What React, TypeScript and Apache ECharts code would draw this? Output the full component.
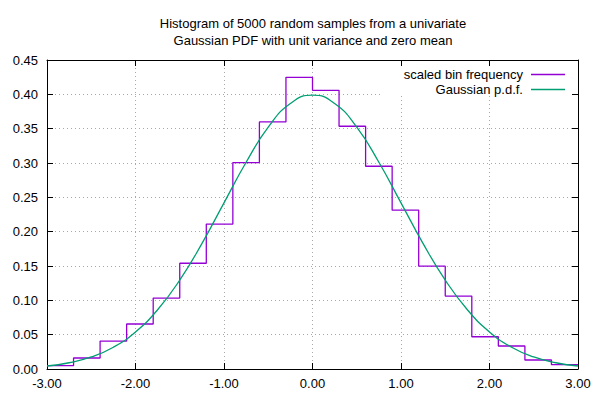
import React, { useEffect, useRef } from "react";
import * as echarts from "echarts";

const titleLines = [
  "Histogram of 5000 random samples from a univariate",
  "Gaussian PDF with unit variance and zero mean",
];
const histName = "scaled bin frequency";
const pdfName = "Gaussian p.d.f.";

// left edges of the 0.3-wide bins, last value is the right edge of the last bin
const binEdges = [
  -3.0, -2.7, -2.4, -2.1, -1.8, -1.5, -1.2, -0.9, -0.6, -0.3,
  0.0, 0.3, 0.6, 0.9, 1.2, 1.5, 1.8, 2.1, 2.4, 2.7, 3.0,
];
const binValues = [
  0.0049, 0.016, 0.0407, 0.0655, 0.1033, 0.154, 0.211, 0.3006, 0.3598, 0.4247,
  0.4058, 0.3535, 0.2953, 0.2313, 0.1498, 0.1062, 0.047, 0.0335, 0.0131, 0.0063,
];

const pdfX = [
  -3.0, -2.75, -2.5, -2.25, -2.0, -1.75, -1.5, -1.25, -1.0, -0.75, -0.5, -0.25,
  0.0, 0.25, 0.5, 0.75, 1.0, 1.25, 1.5, 1.75, 2.0, 2.25, 2.5, 2.75, 3.0,
];
const pdfY = [
  0.0044, 0.0091, 0.0175, 0.0317, 0.054, 0.0863, 0.1295, 0.1826, 0.242, 0.3011, 0.3521, 0.3867,
  0.3989, 0.3867, 0.3521, 0.3011, 0.242, 0.1826, 0.1295, 0.0863, 0.054, 0.0317, 0.0175, 0.0091, 0.0044,
];

const FONT = "'Liberation Sans', Arial, sans-serif";
const FS = 13;

export default function App() {
  const ref = useRef<HTMLDivElement>(null);
  useEffect(() => {
    if (!ref.current) return;
    const chart = echarts.init(ref.current, undefined, { renderer: "svg" });

    const histData = binValues.map((v, i) => [binEdges[i], v]);
    histData.push([binEdges[binEdges.length - 1], binValues[binValues.length - 1]]);
    const pdfData = pdfX.map((x, i) => [x, pdfY[i]]);

    const gridLine = { show: true, lineStyle: { color: "#a8a8a8", type: [1, 3] as any, width: 1 } };
    const axisLineStyle = { show: true, onZero: false, lineStyle: { color: "#000", width: 1 } };
    const tickStyle = { show: true, inside: true, length: 6, lineStyle: { color: "#000", width: 1 } };

    const legendCommon = {
      orient: "vertical",
      right: 35,
      align: "right",
      icon: "rect",
      itemWidth: 34,
      itemHeight: 1.3,
      padding: 0,
      textStyle: { fontSize: FS, color: "#000", fontFamily: FONT, padding: [0, 3, 0, 0] },
      z: 4,
    };

    chart.setOption({
      animation: false,
      backgroundColor: "#fff",
      textStyle: { fontFamily: FONT },
      grid: { left: 47, right: 22, top: 60, bottom: 31, containLabel: false },
      graphic: [
        {
          type: "text",
          x: 313,
          y: 23,
          style: {
            text: titleLines[0],
            fill: "#000",
            font: `${FS}px ${FONT}`,
            textAlign: "center",
            textVerticalAlign: "middle",
          },
        },
        {
          type: "text",
          x: 313,
          y: 40.5,
          style: {
            text: titleLines[1],
            fill: "#000",
            font: `${FS}px ${FONT}`,
            textAlign: "center",
            textVerticalAlign: "middle",
          },
        },
        {
          type: "rect",
          z: 1,
          shape: { x: 382, y: 61, width: 196, height: 34 },
          style: { fill: "#fff" },
        },
      ],
      legend: [
        { ...legendCommon, data: [histName], top: 68 },
        { ...legendCommon, data: [pdfName], top: 83 },
      ],
      xAxis: [
        {
          type: "value",
          min: -3,
          max: 3,
          interval: 1,
          position: "bottom",
          axisLine: axisLineStyle,
          axisTick: tickStyle,
          splitLine: gridLine,
          axisLabel: {
            color: "#000",
            fontSize: FS,
            fontFamily: FONT,
            margin: 8,
            formatter: (v: number) => v.toFixed(2),
          },
        },
        {
          type: "value",
          min: -3,
          max: 3,
          interval: 1,
          position: "top",
          z: 5,
          axisLine: axisLineStyle,
          axisTick: tickStyle,
          splitLine: { show: false },
          axisLabel: { show: false },
        },
      ],
      yAxis: [
        {
          type: "value",
          min: 0,
          max: 0.45,
          interval: 0.05,
          position: "left",
          axisLine: axisLineStyle,
          axisTick: tickStyle,
          splitLine: gridLine,
          axisLabel: {
            color: "#000",
            fontSize: FS,
            fontFamily: FONT,
            margin: 9,
            formatter: (v: number) => v.toFixed(2),
          },
        },
        {
          type: "value",
          min: 0,
          max: 0.45,
          interval: 0.05,
          position: "right",
          z: 5,
          axisLine: axisLineStyle,
          axisTick: tickStyle,
          splitLine: { show: false },
          axisLabel: { show: false },
        },
      ],
      series: [
        {
          name: histName,
          type: "line",
          step: "end",
          data: histData,
          symbol: "none",
          xAxisIndex: 0,
          yAxisIndex: 0,
          z: 3,
          lineStyle: { color: "#9400d3", width: 1.3 },
          itemStyle: { color: "#9400d3" },
        },
        {
          name: pdfName,
          type: "line",
          smooth: true,
          data: pdfData,
          symbol: "none",
          xAxisIndex: 0,
          yAxisIndex: 0,
          z: 3,
          lineStyle: { color: "#009e73", width: 1.3 },
          itemStyle: { color: "#009e73" },
        },
      ],
    });
    return () => chart.dispose();
  }, []);
  return <div ref={ref} style={{ width: 600, height: 400, position: "absolute", left: 0, top: 0 }} />;
}
